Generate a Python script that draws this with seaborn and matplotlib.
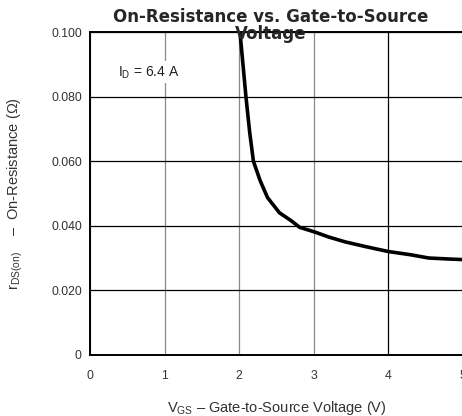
import matplotlib
matplotlib.use('Agg')
import matplotlib.pyplot as plt
import seaborn as sns
import pandas as pd

# 곡선 데이터
vgs = [2.01, 2.05, 2.09, 2.14, 2.19, 2.28, 2.38, 2.54, 2.70, 2.81, 3.02, 3.20, 3.42, 3.70, 4.00, 4.30, 4.54, 4.80, 5.00]
rds = [0.100, 0.090, 0.080, 0.069, 0.060, 0.054, 0.0487, 0.044, 0.0415, 0.0395, 0.038, 0.0365, 0.035, 0.0335, 0.032, 0.031, 0.030, 0.0297, 0.0295]
x_ticks = [0, 1, 2, 3, 4, 5]
y_ticks = [0, 0.02, 0.04, 0.06, 0.08, 0.10]
y_labels = ['0', '0.020', '0.040', '0.060', '0.080', '0.100']

df = pd.DataFrame({'vgs': vgs, 'rds': rds})

sns.set_style('white')
plt.rcParams['font.family'] = ['Liberation Sans', 'DejaVu Sans']
plt.rcParams['mathtext.fontset'] = 'custom'
plt.rcParams['mathtext.rm'] = 'Liberation Sans'
plt.rcParams['mathtext.it'] = 'Liberation Sans'

fig = plt.figure(figsize=(4.62, 4.16), dpi=100)
ax = fig.add_axes([0.195, 0.147, 0.807, 0.776])

sns.lineplot(data=df, x='vgs', y='rds', ax=ax, color='black', lw=2.6, zorder=3)

ax.set_xlim(0, 5)
ax.set_ylim(0, 0.1)
ax.set_xticks(x_ticks)
ax.set_yticks(y_ticks)
ax.set_yticklabels(y_labels)
ax.tick_params(length=0, labelsize=8.8, labelcolor='#333333')
ax.tick_params(axis='x', pad=11)
ax.tick_params(axis='y', pad=6)

# 격자
ax.grid(axis='y', color='black', lw=0.9)
ax.grid(axis='x', color='#888888', lw=0.9)
ax.get_xgridlines()[4].set_color('black')

for s in ax.spines.values():
    s.set_color('black')
    s.set_linewidth(1.4)

ax.set_xlabel(r'V$_{\rm GS}$ – Gate-to-Source Voltage (V)', fontsize=10.5, color='#333333', labelpad=12)
ax.set_ylabel(r'r$_{\rm DS(on)}$    –  On-Resistance ($\Omega$)', fontsize=10.5, color='#333333', labelpad=19)

ax.text(0.37, 0.0875, r'I$_{\rm D}$ = 6.4 A', fontsize=10, color='#222222', va='center',
        bbox=dict(facecolor='white', edgecolor='none', pad=2), zorder=4)

fig.text(0.585, 0.938, 'On-Resistance vs. Gate-to-Source\nVoltage', ha='center', va='center',
         fontsize=12, fontweight='bold', family='DejaVu Sans', linespacing=0.9, zorder=10)

plt.savefig('out.png', dpi=100)
